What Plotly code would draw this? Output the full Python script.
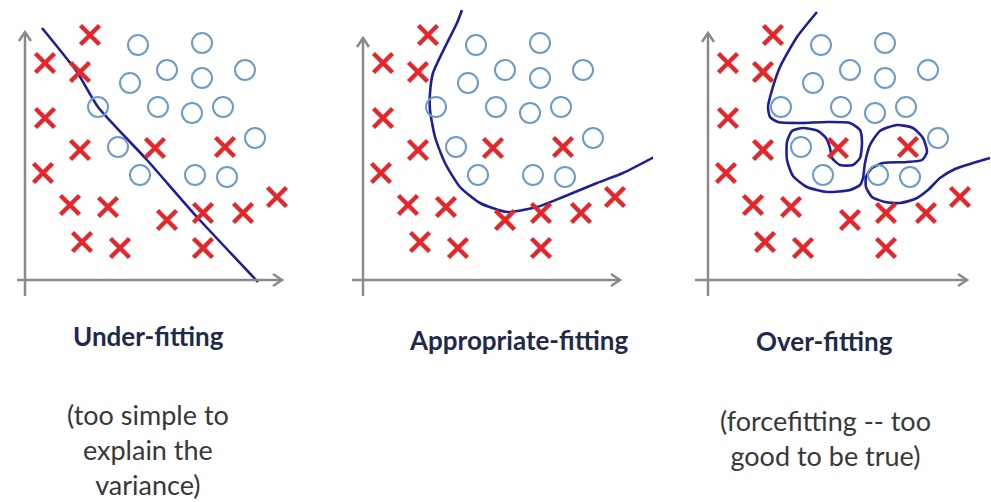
import plotly.graph_objects as go

W, H = 991, 502

# ---- data (shared by all three panels) ----
cross_x = [65, 20, 55, 20, 55, 130, 200, 18, 45, 83, 142, 178, 218, 252, 57, 95, 178]
cross_y = [245, 217, 208, 162, 130, 132, 133, 107, 75, 73, 60, 67, 67, 83, 38, 32, 32]
circ_x = [113, 177, 142, 177, 220, 105, 73, 133, 167, 198, 230, 93, 115, 170, 202]
circ_y = [235, 237, 210, 202, 210, 197, 173, 173, 167, 173, 142, 133, 105, 105, 103]

# decision boundaries
under_x = [17, 52, 73, 122, 172, 233]
under_y = [252, 208, 173, 120, 63, -2]
approp_x = [99, 94, 84, 70, 67, 67, 72, 82, 97, 117, 144, 174, 200, 234, 260, 295]
approp_y = [270, 257, 237, 207, 187, 170, 143, 117, 93, 77, 68, 73, 83, 97, 107, 125]
over_x = [109, 89, 72, 64, 60, 62, 70, 92, 119, 142, 152, 154, 152, 145, 132, 124, 122, 118,
          110, 95, 84, 79, 79, 85, 99, 119, 142, 152, 155, 157, 162, 172, 189, 205, 215, 219,
          214, 199, 175, 164, 158, 158, 164, 177, 192, 207, 220, 232, 247, 265, 282]
over_y = [268, 243, 213, 190, 173, 163, 158, 157, 158, 157, 150, 137, 122, 115, 115, 122, 132, 142,
          149, 152, 149, 138, 120, 104, 93, 88, 90, 95, 102, 117, 135, 149, 155, 152, 142, 128,
          120, 118, 117, 112, 103, 93, 83, 78, 77, 81, 90, 102, 111, 117, 122]

titles = ["Under-fitting", "Appropriate-fitting", "Over-fitting"]
subtitles = ["(too simple to<br>explain the<br>variance)", "", "(forcefitting -- too<br>good to be true)"]

RED = "#e3282c"
CIRC = "#6d9bc6"
LINE = "#1d1f98"
AX = "#8a8a8a"

# panel geometry (pixels)
panels = [
    dict(px0=0, px1=320, xr=[-25, 295], ytop=248, xl=-8, xr_end=257),
    dict(px0=333, px1=653, xr=[-30, 290], ytop=242, xl=-11, xr_end=257),
    dict(px0=670, px1=991, xr=[-38, 283], ytop=247, xl=-13, xr_end=259),
]
bounds = [(under_x, under_y), (approp_x, approp_y), (over_x, over_y)]

fig = go.Figure()
shapes = []
for i, p in enumerate(panels):
    xa = "x" if i == 0 else f"x{i+1}"
    ya = "y" if i == 0 else f"y{i+1}"
    bx, by = bounds[i]
    fig.add_trace(go.Scatter(x=bx, y=by, mode="lines", xaxis=xa, yaxis=ya,
                             line=dict(color=LINE, width=2.6, shape="spline", smoothing=0.6),
                             hoverinfo="skip", showlegend=False))
    fig.add_trace(go.Scatter(x=circ_x, y=circ_y, mode="markers", xaxis=xa, yaxis=ya,
                             marker=dict(symbol="circle-open", size=20, color=CIRC,
                                         line=dict(color=CIRC, width=2)),
                             showlegend=False))
    fig.add_trace(go.Scatter(x=cross_x, y=cross_y, mode="markers", xaxis=xa, yaxis=ya,
                             marker=dict(symbol="x-thin", size=19, color=RED,
                                         line=dict(color=RED, width=4.5)),
                             showlegend=False))
    # axes with arrowheads
    ln = dict(color=AX, width=2.5)
    shapes.append(dict(type="line", xref=xa, yref=ya, x0=0, y0=-16, x1=0, y1=p["ytop"], line=ln))
    shapes.append(dict(type="line", xref=xa, yref=ya, x0=p["xl"], y0=0, x1=p["xr_end"], y1=0, line=ln))
    t = p["ytop"]
    shapes.append(dict(type="path", xref=xa, yref=ya,
                       path=f"M -6,{t-9} L 0,{t} L 6,{t-9}", line=ln))
    e = p["xr_end"]
    shapes.append(dict(type="path", xref=xa, yref=ya,
                       path=f"M {e-9},6 L {e},0 L {e-9},-6", line=ln))

layout = dict(width=W, height=H, margin=dict(l=0, r=0, t=0, b=0),
              paper_bgcolor="white", plot_bgcolor="white", shapes=shapes,
              showlegend=False)
ydom = [(H - 310) / H, 1.0]
for i, p in enumerate(panels):
    kx = "xaxis" if i == 0 else f"xaxis{i+1}"
    ky = "yaxis" if i == 0 else f"yaxis{i+1}"
    layout[kx] = dict(domain=[p["px0"] / W, p["px1"] / W], range=p["xr"], visible=False,
                      anchor="y" if i == 0 else f"y{i+1}")
    layout[ky] = dict(domain=ydom, range=[-30, 280], visible=False,
                      anchor="x" if i == 0 else f"x{i+1}")
fig.update_layout(**layout)

# text labels
title_pos = [(148, 336), (518, 340), (824, 341)]
sub_pos = [(148, 449), None, (825, 438)]
for i in range(3):
    tx, ty = title_pos[i]
    fig.add_annotation(x=tx / W, y=1 - ty / H, xref="paper", yref="paper",
                       text=f"<b>{titles[i]}</b>", showarrow=False,
                       font=dict(family="Lato, Open Sans, sans-serif", size=26, color="#1f2a4a"),
                       xanchor="center", yanchor="middle")
    if sub_pos[i]:
        sx, sy = sub_pos[i]
        fig.add_annotation(x=sx / W, y=1 - sy / H, xref="paper", yref="paper",
                           text=subtitles[i], showarrow=False, align="center",
                           font=dict(family="Lato, Open Sans, sans-serif", size=27, color="#383838"),
                           xanchor="center", yanchor="middle")

fig.write_html("out.html", config={"displayModeBar": False},
               post_script="document.body.style.margin='0';")
